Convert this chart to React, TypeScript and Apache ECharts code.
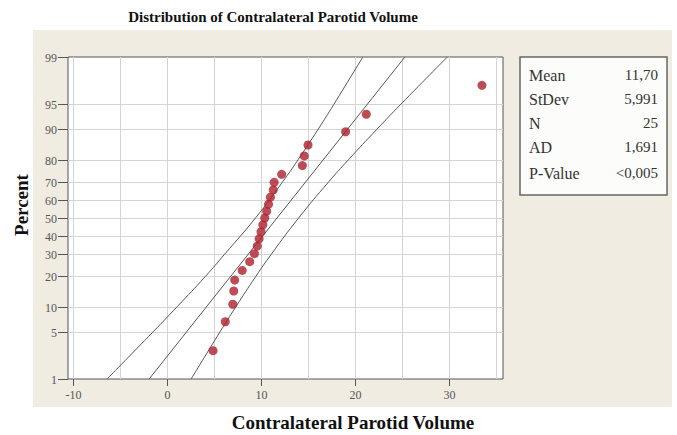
import React, { useEffect, useRef } from "react";
import * as echarts from "echarts";

// ---- data ----
const yTickPercents = [1, 5, 10, 20, 30, 40, 50, 60, 70, 80, 90, 95, 99];
const xTickLabels = [-10, 0, 10, 20, 30];
const pointPercents = [
  2.76, 6.69, 10.63, 14.57, 18.5, 22.44, 26.38, 30.31, 34.25, 38.19, 42.13, 46.06, 50.0,
  53.94, 57.87, 61.81, 65.75, 69.69, 73.62, 77.56, 81.5, 85.43, 89.37, 93.31, 97.24,
];
const pointValues = [
  4.9, 6.2, 7.0, 7.1, 7.2, 8.0, 8.8, 9.3, 9.6, 9.8, 10.0, 10.2, 10.4, 10.6, 10.8, 11.0, 11.3,
  11.4, 12.2, 14.4, 14.6, 15.0, 19.0, 21.2, 33.5,
];
const bandPercents = [1, 5, 10, 20, 30, 50, 70, 80, 90, 95, 99];
const lowerBand = [-6.38, -1.48, 1.08, 4.1, 6.12, 9.41, 12.31, 13.94, 16.07, 17.76, 20.83];
const upperBand = [2.57, 5.64, 7.33, 9.46, 11.09, 14.0, 17.21, 19.3, 22.32, 24.88, 29.82];
const fitPercents = [1, 99];
const fitValues = [-1.9, 25.3];
const statLabels = ["Mean", "StDev", "N", "AD", "P-Value"];
const statValues = ["11,70", "5,991", "25", "1,691", "<0,005"];

const X_MIN = -10.53;
const X_MAX = 35.74;

// inverse standard normal CDF (probability axis transform)
function probit(p: number): number {
  const a = [-3.969683028665376e1, 2.209460984245205e2, -2.759285104469687e2, 1.38357751867269e2, -3.066479806614716e1, 2.506628277459239];
  const b = [-5.447609879822406e1, 1.615858368580409e2, -1.556989798598866e2, 6.680131188771972e1, -1.328068155288572e1];
  const c = [-7.784894002430293e-3, -3.223964580411365e-1, -2.400758277161838, -2.549732539343734, 4.374664141464968, 2.938163982698783];
  const d = [7.784695709041462e-3, 3.224671290700398e-1, 2.445134137142996, 3.754408661907416];
  const pl = 0.02425;
  let q: number, r: number;
  if (p < pl) {
    q = Math.sqrt(-2 * Math.log(p));
    return (((((c[0] * q + c[1]) * q + c[2]) * q + c[3]) * q + c[4]) * q + c[5]) / ((((d[0] * q + d[1]) * q + d[2]) * q + d[3]) * q + 1);
  }
  if (p > 1 - pl) {
    q = Math.sqrt(-2 * Math.log(1 - p));
    return -(((((c[0] * q + c[1]) * q + c[2]) * q + c[3]) * q + c[4]) * q + c[5]) / ((((d[0] * q + d[1]) * q + d[2]) * q + d[3]) * q + 1);
  }
  q = p - 0.5;
  r = q * q;
  return ((((((a[0] * r + a[1]) * r + a[2]) * r + a[3]) * r + a[4]) * r + a[5]) * q) / (((((b[0] * r + b[1]) * r + b[2]) * r + b[3]) * r + b[4]) * r + 1);
}

const SERIF = '"Liberation Serif", "Times New Roman", serif';

export default function App() {
  const ref = useRef<HTMLDivElement>(null);

  useEffect(() => {
    if (!ref.current) return;
    const chart = echarts.init(ref.current, null, { renderer: "svg" });
    const zMin = probit(yTickPercents[0] / 100);
    const zMax = probit(yTickPercents[yTickPercents.length - 1] / 100);

    const statChildren: any[] = [];
    const rowY = [75, 99, 123, 147, 173];
    statLabels.forEach((l, i) => {
      statChildren.push({
        type: "text",
        x: 529,
        y: rowY[i],
        style: { text: l, font: `16px ${SERIF}`, fill: "#333", align: "left", verticalAlign: "middle" },
      });
      statChildren.push({
        type: "text",
        x: 658,
        y: rowY[i],
        style: { text: statValues[i], font: `15px ${SERIF}`, fill: "#333", align: "right", verticalAlign: "middle" },
      });
    });

    chart.setOption({
      animation: false,
      backgroundColor: "transparent",
      grid: {
        left: 68,
        top: 57,
        right: 174,
        bottom: 56,
        show: true,
        backgroundColor: "#ffffff",
        borderColor: "#555",
        borderWidth: 1,
      },
      xAxis: {
        type: "value",
        min: X_MIN,
        max: X_MAX,
        splitNumber: 9,
        axisLine: { show: false },
        axisTick: { show: false },
        axisLabel: { show: false },
        splitLine: { show: true, showMinLine: false, showMaxLine: false, lineStyle: { color: "#d4d4d4", width: 1 } },
      },
      yAxis: {
        type: "value",
        min: zMin,
        max: zMax,
        axisLine: { show: false },
        axisTick: { show: false },
        axisLabel: { show: false },
        splitLine: { show: false },
      },
      graphic: [
        {
          type: "text",
          x: 273,
          y: 17,
          style: {
            text: "Distribution of Contralateral Parotid Volume",
            font: `bold 15px ${SERIF}`,
            fill: "#111",
            align: "center",
            verticalAlign: "middle",
          },
        },
        {
          type: "text",
          x: 353,
          y: 422,
          style: {
            text: "Contralateral Parotid Volume",
            font: `bold 19px ${SERIF}`,
            fill: "#111",
            align: "center",
            verticalAlign: "middle",
          },
        },
        {
          type: "text",
          x: 21,
          y: 205,
          rotation: Math.PI / 2,
          style: {
            text: "Percent",
            font: `bold 19px ${SERIF}`,
            fill: "#111",
            align: "center",
            verticalAlign: "middle",
          },
        },
        {
          type: "rect",
          shape: { x: 520, y: 57, width: 147, height: 138 },
          style: { fill: "#fcfcfa", stroke: "#666", lineWidth: 1.5 },
        },
        { type: "group", children: statChildren },
      ],
      series: [
        {
          type: "custom",
          z: 1,
          clip: false,
          silent: true,
          data: yTickPercents.map((p) => [X_MIN, probit(p / 100), p]),
          renderItem: (params: any, api: any) => {
            const z = api.value(1);
            const p = api.value(2);
            const c0 = api.coord([X_MIN, z]);
            const c1 = api.coord([X_MAX, z]);
            const y = Math.round(c0[1]) + 0.5;
            const x0 = c0[0];
            const children: any[] = [];
            if (p !== yTickPercents[0] && p !== yTickPercents[yTickPercents.length - 1]) {
              children.push({
                type: "line",
                shape: { x1: x0, y1: y, x2: c1[0], y2: y },
                style: { stroke: "#d4d4d4", lineWidth: 1 },
              });
            }
            children.push({
              type: "line",
              shape: { x1: x0 - 10, y1: y, x2: x0, y2: y },
              style: { stroke: "#555", lineWidth: 1 },
            });
            children.push({
              type: "text",
              x: x0 - 11,
              y: y,
              style: {
                text: String(p),
                font: `12px ${SERIF}`,
                fill: "#555",
                align: "right",
                verticalAlign: "middle",
              },
            });
            return { type: "group", children };
          },
        },
        {
          type: "custom",
          z: 1,
          clip: false,
          silent: true,
          data: xTickLabels.map((v) => [v, zMin]),
          renderItem: (params: any, api: any) => {
            const v = api.value(0);
            const c = api.coord([v, zMin]);
            const x = Math.round(c[0]) + 0.5;
            const y = c[1];
            return {
              type: "group",
              children: [
                {
                  type: "line",
                  shape: { x1: x, y1: y, x2: x, y2: y + 7 },
                  style: { stroke: "#555", lineWidth: 1 },
                },
                {
                  type: "text",
                  x: x,
                  y: y + 10,
                  style: {
                    text: String(v),
                    font: `12px ${SERIF}`,
                    fill: "#555",
                    align: "center",
                    verticalAlign: "top",
                  },
                },
              ],
            };
          },
        },
        {
          type: "line",
          z: 3,
          symbol: "none",
          smooth: true,
          data: bandPercents.map((p, i) => [lowerBand[i], probit(p / 100)]),
          lineStyle: { color: "#555", width: 1 },
        },
        {
          type: "line",
          z: 3,
          symbol: "none",
          smooth: true,
          data: bandPercents.map((p, i) => [upperBand[i], probit(p / 100)]),
          lineStyle: { color: "#555", width: 1 },
        },
        {
          type: "line",
          z: 3,
          symbol: "none",
          data: fitPercents.map((p, i) => [fitValues[i], probit(p / 100)]),
          lineStyle: { color: "#555", width: 1 },
        },
        {
          type: "scatter",
          z: 4,
          symbol: "circle",
          symbolSize: 9,
          itemStyle: { color: "#ad1f2c" },
          data: pointPercents.map((p, i) => [pointValues[i], probit(p / 100)]),
        },
      ],
    });
    return () => chart.dispose();
  }, []);

  return (
    <div style={{ position: "fixed", left: 0, top: 0, width: 677, height: 435, background: "#ffffff" }}>
      <div
        style={{ position: "absolute", left: 33, top: 30, width: 639, height: 377, background: "#f0ece2" }}
      />
      <div ref={ref} style={{ position: "absolute", left: 0, top: 0, width: 677, height: 435 }} />
    </div>
  );
}
